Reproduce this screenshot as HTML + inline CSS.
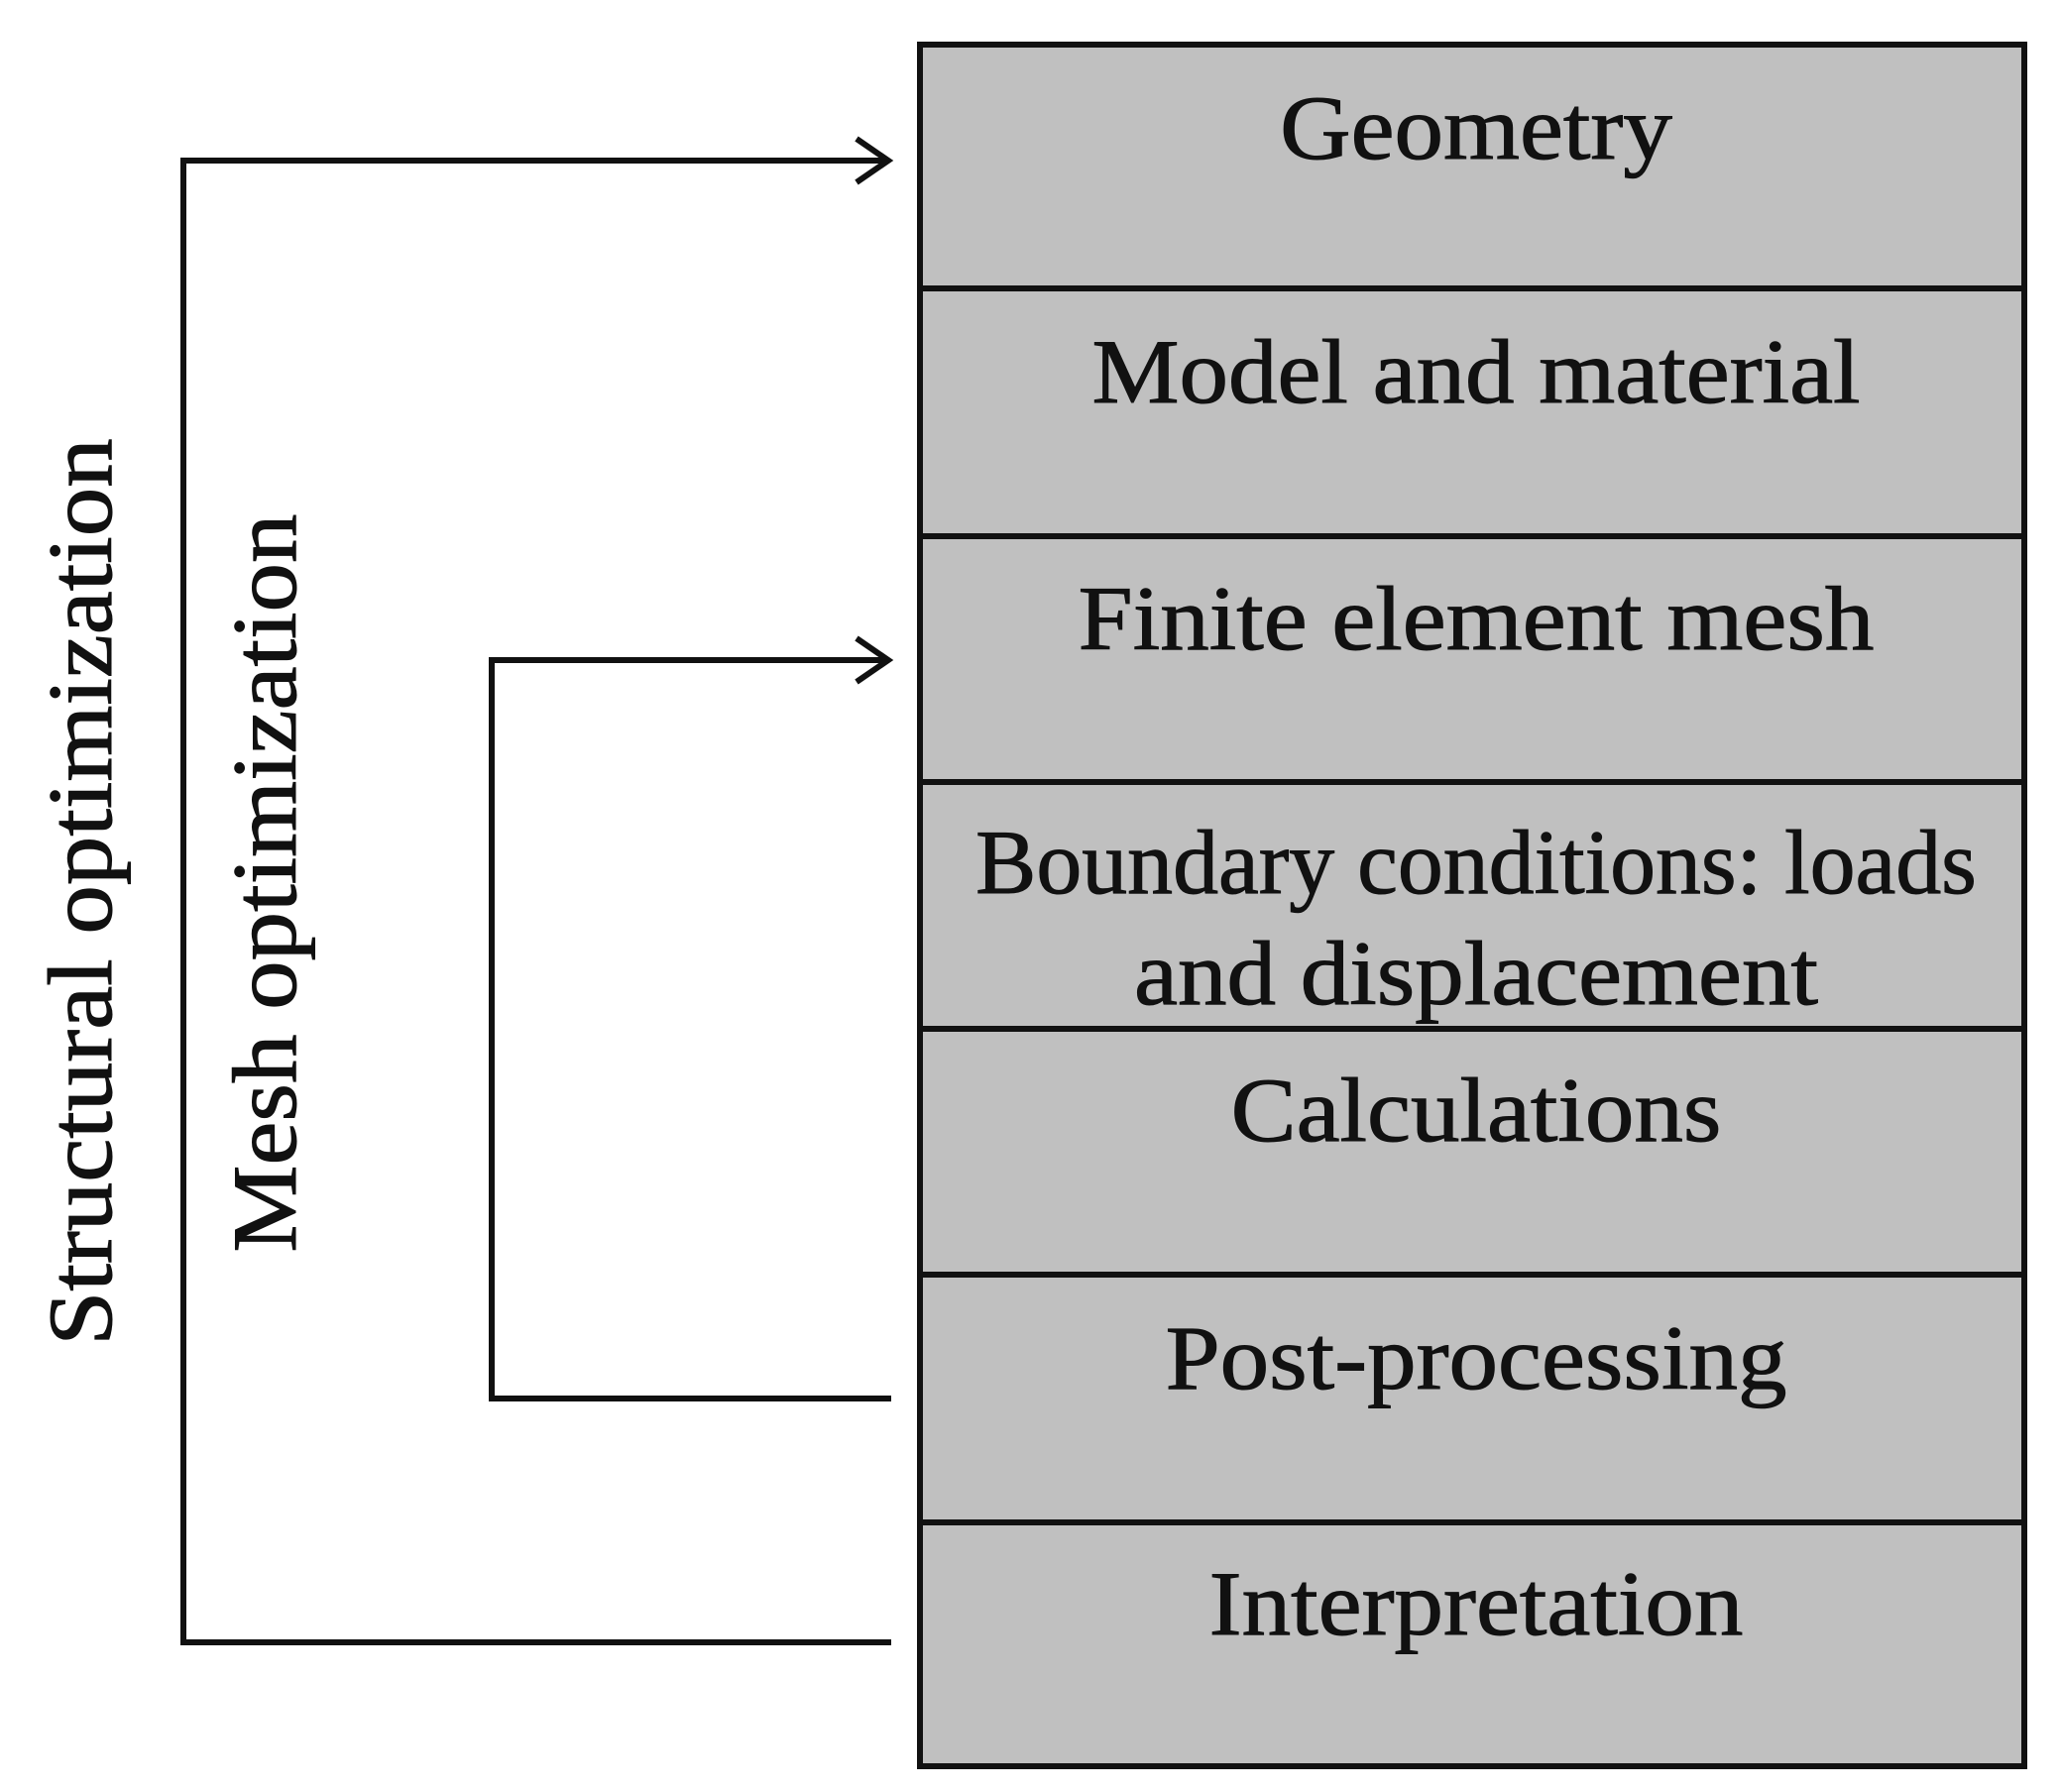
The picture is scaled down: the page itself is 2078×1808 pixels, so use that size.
<!DOCTYPE html>
<html><head><style>
html,body{margin:0;padding:0;background:#fff;}
svg{display:block;}
text{font-family:"Liberation Serif",serif;font-size:90px;fill:#111;stroke:#111;stroke-width:1;}
</style></head><body>
<svg width="2078" height="1808" viewBox="0 0 2078 1808" xmlns="http://www.w3.org/2000/svg">
<rect x="928" y="45" width="1114" height="1737" fill="#c0c0c0" stroke="#111" stroke-width="6"/>
<g stroke="#111" stroke-width="6">
<line x1="928" y1="291" x2="2042" y2="291"/>
<line x1="928" y1="541" x2="2042" y2="541"/>
<line x1="928" y1="789" x2="2042" y2="789"/>
<line x1="928" y1="1038" x2="2042" y2="1038"/>
<line x1="928" y1="1286" x2="2042" y2="1286"/>
<line x1="928" y1="1536" x2="2042" y2="1536"/>
</g>
<g stroke="#111" stroke-width="6" fill="none">
<polyline points="899,1657 185,1657 185,162 897,162"/>
<polyline points="864,140 896,162 864,184"/>
<polyline points="899,1411 496,1411 496,666 897,666"/>
<polyline points="864,644 896,666 864,688"/>
</g>
<g text-anchor="middle">
<text transform="translate(1489,160) scale(1.1,1.02)">Geometry</text>
<text transform="translate(1489,406) scale(1.1,1.02)">Model and material</text>
<text transform="translate(1489,655) scale(1.1,1.02)">Finite element mesh</text>
<text transform="translate(1489,901) scale(1.02,1.02)">Boundary conditions:  loads</text>
<text transform="translate(1489,1013) scale(1.1,1.02)">and displacement</text>
<text transform="translate(1489,1151) scale(1.1,1.02)">Calculations</text>
<text transform="translate(1489,1401) scale(1.1,1.02)">Post-processing</text>
<text transform="translate(1489,1649) scale(1.1,1.02)">Interpretation</text>
<text transform="translate(112,900) rotate(-90) scale(1.1,1.02)">Structural optimization</text>
<text transform="translate(298,891) rotate(-90) scale(1.1,1.02)">Mesh optimization</text>
</g>
</svg>
</body></html>
